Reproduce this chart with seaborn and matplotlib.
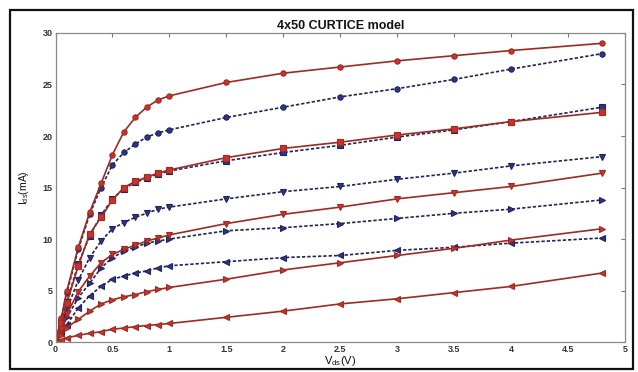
import numpy as np
import pandas as pd
import seaborn as sns
import matplotlib
matplotlib.use("Agg")
import matplotlib.pyplot as plt
from matplotlib.patches import Rectangle

# Drain voltage sweep points (V)
vds = [0, 0.05, 0.1, 0.2, 0.3, 0.4, 0.5, 0.6, 0.7, 0.8, 0.9, 1.0,
       1.5, 2.0, 2.5, 3.0, 3.5, 4.0, 4.8]

# Curtice model curves (mA), one per gate bias
model_o = [0, 2.3, 5.0, 9.2, 12.6, 15.4, 18.2, 20.4, 21.8, 22.8, 23.5, 23.9,
           25.2, 26.1, 26.7, 27.3, 27.8, 28.3, 29.0]
model_s = [0, 1.8, 3.8, 7.4, 10.5, 12.1, 13.8, 15.0, 15.6, 16.0, 16.4, 16.7,
           17.9, 18.8, 19.4, 20.1, 20.7, 21.4, 22.3]
model_v = [0, 1.3, 2.7, 4.9, 6.4, 7.7, 8.5, 9.0, 9.4, 9.8, 10.1, 10.4,
           11.5, 12.4, 13.1, 13.9, 14.5, 15.1, 16.4]
model_r = [0, 0.7, 1.4, 2.2, 3.0, 3.7, 4.1, 4.4, 4.6, 4.9, 5.1, 5.3,
           6.1, 7.0, 7.7, 8.4, 9.1, 9.9, 11.0]
model_l = [0, 0.2, 0.4, 0.65, 0.85, 1.0, 1.25, 1.35, 1.5, 1.6, 1.7, 1.8,
           2.4, 3.0, 3.7, 4.2, 4.8, 5.4, 6.7]

# Measured curves (mA)
meas_o = [0, 2.2, 4.8, 9.0, 12.4, 15.0, 17.2, 18.4, 19.2, 19.9, 20.3, 20.6,
          21.8, 22.8, 23.8, 24.6, 25.5, 26.5, 28.0]
meas_s = [0, 1.8, 3.9, 7.6, 10.3, 12.3, 13.9, 14.9, 15.5, 15.9, 16.3, 16.6,
          17.6, 18.4, 19.1, 19.9, 20.6, 21.4, 22.8]
meas_v = [0, 1.6, 3.2, 6.0, 8.2, 9.8, 11.0, 11.6, 12.1, 12.5, 12.9, 13.1,
          13.9, 14.6, 15.1, 15.8, 16.4, 17.1, 18.0]
meas_r = [0, 1.2, 2.4, 4.3, 5.7, 7.2, 8.2, 8.8, 9.2, 9.6, 9.8, 10.0,
          10.8, 11.1, 11.5, 12.0, 12.5, 12.9, 13.8]
meas_l = [0, 0.9, 1.7, 3.3, 4.5, 5.4, 6.1, 6.4, 6.7, 6.9, 7.2, 7.4,
          7.8, 8.2, 8.4, 8.9, 9.2, 9.6, 10.1]

x_ticks = [0, 0.5, 1, 1.5, 2, 2.5, 3, 3.5, 4, 4.5, 5]
x_tick_labels = ["0", "0.5", "1", "1.5", "2", "2.5", "3", "3.5", "4", "4.5", "5"]
y_ticks = [0, 5, 10, 15, 20, 25, 30]

sns.set_theme(style="white")
plt.rcParams["font.family"] = ["Liberation Sans", "DejaVu Sans"]
plt.rcParams["xtick.direction"] = "in"
plt.rcParams["ytick.direction"] = "in"

fig = plt.figure(figsize=(6.38, 3.72), dpi=100)
ax = fig.add_axes([0.087, 0.0806, 0.893, 0.8307])

red_line = "#9e2a22"
red_mark = "#c8332a"
blue_line = "#1f2455"
blue_mark = "#2b3590"

markers = ["o", "s", "v", ">", "<"]
measured = [meas_o, meas_s, meas_v, meas_r, meas_l]
modeled = [model_o, model_s, model_v, model_r, model_l]

for ys, mk in zip(measured, markers):
    sns.lineplot(x=vds, y=ys, ax=ax, color=blue_line, linewidth=1.2,
                 linestyle=(0, (2.0, 1.2)), marker=mk, markersize=3.8,
                 markerfacecolor=blue_mark, markeredgecolor=blue_line,
                 markeredgewidth=0.8, errorbar=None, sort=False)

for ys, mk in zip(modeled, markers):
    sns.lineplot(x=vds, y=ys, ax=ax, color=red_line, linewidth=1.2,
                 linestyle="-", marker=mk, markersize=3.8,
                 markerfacecolor=red_mark, markeredgecolor=red_line,
                 markeredgewidth=0.8, errorbar=None, sort=False)

ax.set_xlim(0, 5)
ax.set_ylim(0, 30)
ax.set_xticks(x_ticks)
ax.set_xticklabels(x_tick_labels)
ax.set_yticks(y_ticks)
ax.tick_params(axis="both", which="both", direction="in", length=3, width=0.8,
               color="#777777", labelsize=6.5, labelcolor="#333333",
               top=True, right=True, pad=2)
for lab in ax.get_xticklabels() + ax.get_yticklabels():
    lab.set_fontweight("bold")
for side in ["left", "bottom", "top", "right"]:
    ax.spines[side].set_color("#8a8a8a")
    ax.spines[side].set_linewidth(0.9)
for side in ["top", "right", "bottom"]:
    ax.spines[side].set_linestyle((0, (2, 1)))

ax.set_title("4x50 CURTICE model", fontsize=9, fontweight="bold", pad=3,
             color="#111111")
ax.set_xlabel(r"V$_{\mathregular{ds}}$(V)", fontsize=8, labelpad=2,
              color="#111111")
ax.xaxis.set_label_coords(0.5, -0.04)
ax.set_ylabel(r"I$_{\mathregular{ds}}$(mA)", fontsize=7.5, labelpad=8,
              color="#111111")

fig.patches.append(Rectangle((0.0157, 0.008), 0.976, 0.965,
                             transform=fig.transFigure, fill=False,
                             edgecolor="#111111", linewidth=1.6))

fig.savefig("out.png", dpi=100, facecolor="white")
